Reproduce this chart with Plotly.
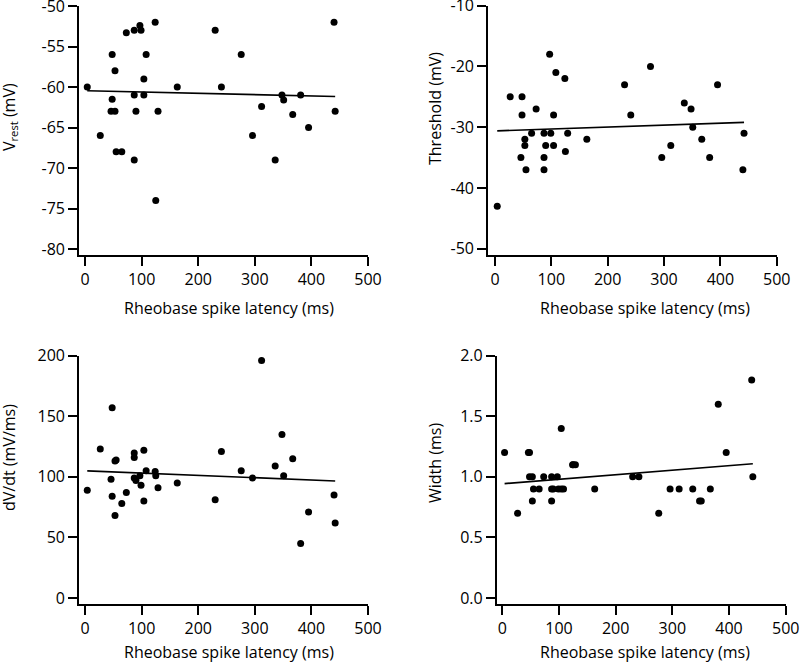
import numpy as np
import plotly.graph_objects as go

# Shared x values: rheobase spike latency (ms)
latency = [4, 27, 46, 48, 48, 53, 53, 55, 65, 73, 87, 87, 87, 90, 97, 99, 104, 104,
           108, 124, 125, 129, 163, 230, 241, 276, 296, 312, 336, 348, 351, 367, 381,
           395, 440, 442]

vrest = [-60, -66, -63, -56, -61.5, -63, -58, -68, -68, -53.3, -53, -61, -69, -63,
         -52.4, -53, -59, -61, -56, -52, -74, -63, -60, -53, -60, -56, -66, -62.4,
         -69, -61, -61.6, -63.4, -61, -65, -52, -63]

threshold = [-43, -25, -35, -25, -28, -32, -33, -37, -31, -27, -31, -35, -37, -33,
             -18, -31, -33, -28, -21, -22, -34, -31, -32, -23, -28, -20, -35, -33,
             -26, -27, -30, -32, -35, -23, -37, -31]

dvdt = [89, 123, 98, 157, 84, 68, 113, 114, 78, 87, 119.7, 116, 99, 97, 101, 93,
        122, 80, 105, 104.5, 101, 91, 95, 81, 121, 105, 99, 196, 109, 135, 101, 115,
        45, 71, 85, 62]

width = [1.2, 0.7, 1.2, 1.2, 1.0, 1.0, 0.8, 0.9, 0.9, 1.0, 1.0, 0.9, 0.8, 0.9, 1.0,
         0.9, 1.4, 0.9, 0.9, 1.1, 1.1, 1.1, 0.9, 1.0, 1.0, 0.7, 0.9, 0.9, 0.9, 0.8,
         0.8, 0.9, 1.6, 1.2, 1.8, 1.0]

x_ticks = [0, 100, 200, 300, 400, 500]
vrest_ticks = [-80, -75, -70, -65, -60, -55, -50]
threshold_ticks = [-50, -40, -30, -20, -10]
dvdt_ticks = [0, 50, 100, 150, 200]
width_ticks = [0.0, 0.5, 1.0, 1.5, 2.0]

W, H = 800, 662
FONT = "Open Sans, Lato, sans-serif"
FS = 16

panels = [
    dict(y=vrest, yr=[-80.74, -50], ticks=vrest_ticks, fmt="{:d}",
         px=(79, 368), py=(6, 255), xr=[-10.6, 500]),
    dict(y=threshold, yr=[-51.04, -10], ticks=threshold_ticks, fmt="{:d}",
         px=(488, 776.7), py=(5.7, 255), xr=[-12.4, 500]),
    dict(y=dvdt, yr=[-5.2, 200], ticks=dvdt_ticks, fmt="{:d}",
         px=(79, 368), py=(355.7, 604.3), xr=[-10.6, 500]),
    dict(y=width, yr=[-0.052, 2.0], ticks=width_ticks, fmt="{:.1f}",
         px=(496.7, 785.7), py=(355.7, 604.3), xr=[-9.9, 500]),
]

fig = go.Figure()
xs = np.array(latency, dtype=float)
for i, p in enumerate(panels):
    n = "" if i == 0 else str(i + 1)
    ys = np.array(p["y"], dtype=float)
    fig.add_trace(go.Scatter(x=latency, y=p["y"], mode="markers",
                             marker=dict(color="black", size=7),
                             xaxis="x" + n, yaxis="y" + n, showlegend=False))
    k, b = np.polyfit(xs, ys, 1)
    lx = [xs.min(), xs.max()]
    fig.add_trace(go.Scatter(x=lx, y=[k * v + b for v in lx], mode="lines",
                             line=dict(color="black", width=1.6),
                             xaxis="x" + n, yaxis="y" + n, showlegend=False))
    common = dict(showgrid=False, zeroline=False, showline=True, linecolor="black",
                  linewidth=1.6, ticks="outside", ticklen=9, tickwidth=1.6,
                  tickcolor="black", automargin=False, ticklabeloverflow="allow",
                  tickfont=dict(family=FONT, size=FS, color="black"))
    fig.layout["xaxis" + n] = dict(domain=[p["px"][0] / W, p["px"][1] / W],
                                   range=p["xr"], tickvals=x_ticks,
                                   ticktext=[str(t) for t in x_ticks],
                                   anchor="y" + n, **common)
    fig.layout["yaxis" + n] = dict(domain=[1 - p["py"][1] / H, 1 - p["py"][0] / H],
                                   range=p["yr"], tickvals=p["ticks"],
                                   ticktext=[p["fmt"].format(t) for t in p["ticks"]],
                                   anchor="x" + n, **common)

titles = [
    ("Rheobase spike latency (ms)", 229, 308, 0),
    ("Rheobase spike latency (ms)", 645, 308, 0),
    ("Rheobase spike latency (ms)", 229, 652, 0),
    ("Rheobase spike latency (ms)", 645, 652, 0),
    ("V<sub>rest</sub> (mV)", 9, 117, -90),
    ("Threshold (mV)", 435, 108, -90),
    ("dV/dt (mV/ms)", 9, 458, -90),
    ("Width (ms)", 435, 463, -90),
]
for text, x, y, ang in titles:
    fig.add_annotation(text=text, x=x / W, y=1 - y / H, xref="paper", yref="paper",
                       showarrow=False, textangle=ang, xanchor="center", yanchor="middle",
                       font=dict(family=FONT, size=FS, color="black"))

fig.update_layout(width=W, height=H, margin=dict(l=0, r=0, t=0, b=0, autoexpand=False),
                  plot_bgcolor="white", paper_bgcolor="white")
fig.write_html("out.html", config={"displayModeBar": False},
               post_script="document.body.style.margin='0';document.body.style.padding='0';")
